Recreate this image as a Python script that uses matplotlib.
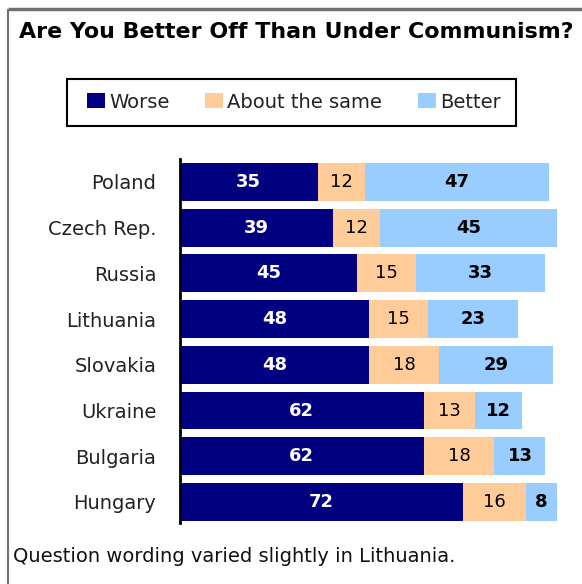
import numpy as np
import matplotlib
matplotlib.use('Agg')
import matplotlib.pyplot as plt
from matplotlib.patches import Patch, Rectangle

countries = ['Poland', 'Czech Rep.', 'Russia', 'Lithuania', 'Slovakia',
             'Ukraine', 'Bulgaria', 'Hungary']
worse = [35, 39, 45, 48, 48, 62, 62, 72]
same = [12, 12, 15, 15, 18, 13, 18, 16]
better = [47, 45, 33, 23, 29, 12, 13, 8]

series_names = ['Worse', 'About the same', 'Better']
colors = ['#000080', '#FFCC99', '#99CCFF']
label_colors = ['white', 'black', 'black']
label_weights = ['bold', 'normal', 'bold']

W, H = 582, 584
F = plt.figure(figsize=(W / 100, H / 100), dpi=100)

def px(x0, y0, x1, y1):
    # pixel box (top-left origin) -> figure fraction rect
    return [x0 / W, 1 - y1 / H, (x1 - x0) / W, (y1 - y0) / H]

# frame lines, title, footnote, legend box
bg = F.add_axes([0, 0, 1, 1])
bg.set_xlim(0, W)
bg.set_ylim(H, 0)
bg.axis('off')
bg.plot([8, W], [9, 9], color='#707070', lw=2.5, solid_capstyle='butt')
bg.plot([8, 8], [9, H], color='#707070', lw=1.5, solid_capstyle='butt')
bg.text(19, 32, 'Are You Better Off Than Under Communism?',
        fontweight='bold', fontsize=15.9, va='center', ha='left')
bg.text(13, 557, 'Question wording varied slightly in Lithuania.',
        fontsize=14, va='center', ha='left', color='#111111')
bg.add_patch(Rectangle((67, 79), 449, 47, fill=False, ec='black', lw=1.5))

# bars
ax = F.add_axes(px(180, 159, 582, 523))
y = np.arange(len(countries))
left = np.zeros(len(countries))
for vals, name, c, lc, lw in zip([worse, same, better], series_names, colors,
                                 label_colors, label_weights):
    vals = np.array(vals)
    ax.barh(y, vals, left=left, height=0.83, color=c, edgecolor='none',
            label=name)
    for yi, l, v in zip(y, left, vals):
        ax.text(l + v / 2, yi, str(v), ha='center', va='center', color=lc,
                fontweight=lw, fontsize=13)
    left = left + vals

ax.set_xlim(0, 402 / 3.93)
ax.set_ylim(7.46, -0.50)
ax.set_yticks(y)
ax.set_yticklabels(countries, fontsize=14, color='#222222')
ax.tick_params(axis='y', length=0, pad=17)
ax.set_xticks([])
for s in ['top', 'right', 'bottom']:
    ax.spines[s].set_visible(False)
ax.spines['left'].set_linewidth(2)

# legend
handles = [Patch(facecolor=c, edgecolor='none') for c in colors]
leg = F.legend(handles, series_names, ncol=3, loc='center left',
               bbox_to_anchor=(87 / W, 1 - 102 / H), fontsize=14,
               frameon=False, handlelength=0.93, handleheight=0.8,
               handletextpad=0.2, borderpad=0, columnspacing=1.85,
               borderaxespad=0)
for t in leg.get_texts():
    t.set_color('#222222')

plt.savefig('out.png', dpi=100)
plt.close()
